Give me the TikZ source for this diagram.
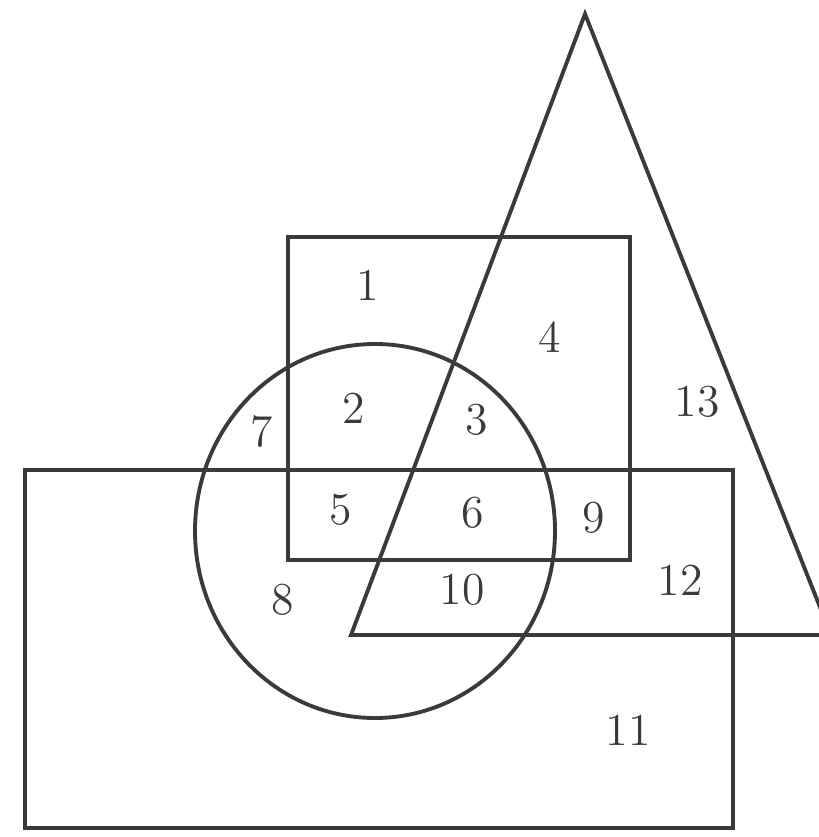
\documentclass[tikz,border=0pt]{standalone}
\usetikzlibrary{positioning}
\definecolor{cline}{HTML}{3A3A3A}
\tikzset{
  every picture/.style={line width=1.1pt},
  outline/.style={draw=cline, line width=1.1pt},
  region/.style={font=\fontsize{13}{15}\selectfont, text=cline, inner sep=1pt},
}

\begin{document}
\begin{tikzpicture}[x=0.01cm, y=-0.01cm]
  \useasboundingbox (0,0) rectangle (819,837);
  \clip (0,0) rectangle (819,837);
  % the four sets
  \draw[outline] (25,470) rectangle (733,828);
  \draw[outline] (288,237) rectangle (630,560);
  \draw[outline] (375,531) ellipse [x radius=180, y radius=187];
  \draw[outline] (585,14) -- (351,635) -- (831,635) -- cycle;
  % region numbers
  \foreach \n/\x/\y in {1/368/285, 2/354/408, 3/477/420, 4/550/337, 5/341/510,
                        6/473/513, 7/262/432, 8/283/600, 9/594/518, 10/462/590,
                        11/628/730, 12/680/580, 13/697/402}
    \node[region] (r\n) at (\x,\y) {\n};
\end{tikzpicture}
\end{document}
